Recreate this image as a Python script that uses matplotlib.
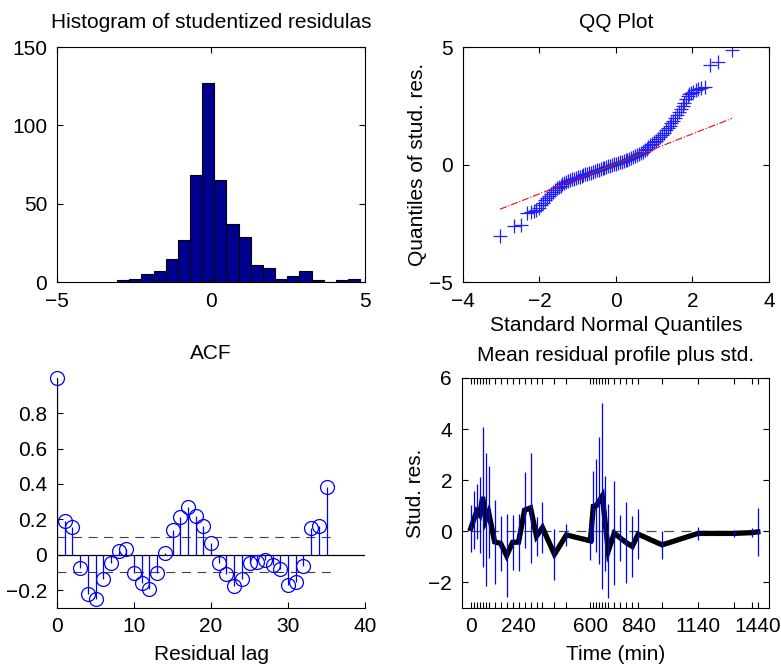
import numpy as np
import matplotlib
matplotlib.use("Agg")
import matplotlib.pyplot as plt

plt.rcParams["font.family"] = ["Liberation Sans", "DejaVu Sans"]
plt.rcParams["font.size"] = 15
plt.rcParams["xtick.direction"] = "in"
plt.rcParams["ytick.direction"] = "in"
plt.rcParams["xtick.major.size"] = 4
plt.rcParams["ytick.major.size"] = 4
plt.rcParams["xtick.major.pad"] = 7
plt.rcParams["ytick.major.pad"] = 7
plt.rcParams["axes.linewidth"] = 0.8

# Histogram of studentized residuals (20 bins)
hist_counts = [1, 2, 5, 7, 15, 27, 68, 127, 65, 37, 29, 11, 9, 2, 4, 7, 1, 0, 1, 2]
hist_range = (-3.05, 4.84)

# QQ plot: theoretical quantiles vs sample quantiles
qq_x = [-3.03, -2.66, -2.47, -2.33, -2.23, -2.15, -2.08, -2.02, -1.96,
        -1.90, -1.85, -1.80, -1.75, -1.70, -1.65, -1.60, -1.55, -1.50, -1.45,
        -1.40, -1.35, -1.30, -1.25, -1.20, -1.15, -1.10, -1.05, -1.00, -0.95,
        -0.90, -0.85, -0.80, -0.75, -0.70, -0.65, -0.60, -0.55, -0.50, -0.45,
        -0.40, -0.35, -0.30, -0.25, -0.20, -0.15, -0.10, -0.05, 0.00, 0.05,
        0.10, 0.15, 0.20, 0.25, 0.30, 0.35, 0.40, 0.45, 0.50, 0.55,
        0.60, 0.65, 0.70, 0.75, 0.80, 0.85, 0.90, 0.95, 1.00, 1.05,
        1.10, 1.15, 1.20, 1.25, 1.30, 1.35, 1.40, 1.45, 1.50, 1.55,
        1.60, 1.65, 1.70, 1.75, 1.79, 1.83, 1.87, 1.91, 1.96, 2.02,
        2.08, 2.15, 2.23, 2.33, 2.47, 2.66, 3.03]
qq_y = [-3.05, -2.60, -2.58, -2.05, -2.02, -1.98, -1.92, -1.85, -1.72,
        -1.62, -1.52, -1.42, -1.33, -1.24, -1.16, -1.09, -1.02, -0.96, -0.90,
        -0.85, -0.80, -0.75, -0.71, -0.67, -0.63, -0.60, -0.57, -0.54, -0.51,
        -0.48, -0.45, -0.42, -0.40, -0.37, -0.34, -0.31, -0.28, -0.25, -0.22,
        -0.19, -0.16, -0.13, -0.10, -0.07, -0.05, -0.02, 0.01, 0.03, 0.06,
        0.09, 0.12, 0.15, 0.18, 0.21, 0.25, 0.29, 0.33, 0.37, 0.41,
        0.45, 0.50, 0.55, 0.61, 0.67, 0.74, 0.81, 0.88, 0.95, 1.02,
        1.10, 1.18, 1.27, 1.36, 1.45, 1.55, 1.65, 1.76, 1.87, 1.98,
        2.10, 2.22, 2.36, 2.50, 2.62, 2.80, 2.92, 3.00, 3.05, 3.10,
        3.15, 3.20, 3.24, 3.30, 4.22, 4.38, 4.88]
qq_q1 = -0.40   # sample first quartile
qq_q3 = 0.46    # sample third quartile

# Autocorrelation of residuals
acf_vals = [1.0, 0.188, 0.156, -0.075, -0.225, -0.252, -0.139, -0.045, 0.023, 0.034,
            -0.105, -0.161, -0.197, -0.101, 0.008, 0.141, 0.216, 0.272, 0.218, 0.160,
            0.064, -0.049, -0.111, -0.178, -0.135, -0.049, -0.041, -0.028, -0.056, -0.083,
            -0.169, -0.152, -0.062, 0.150, 0.165, 0.381]
acf_conf = 0.098

# Mean residual profile
prof_t = [0, 15, 30, 45, 60, 75, 90, 120, 150, 180, 210, 240, 270, 300, 330, 360, 420, 480,
          600, 615, 630, 645, 660, 675, 690, 720, 750, 780, 810, 840, 960, 1140, 1320, 1410, 1440]
prof_mean = [0.10, 0.44, 0.77, 0.63, 1.34, 0.44, 0.74, -0.42, -0.48, -0.96, -0.44, -0.43,
             0.82, 0.91, -0.20, 0.14, -0.91, -0.15, -0.38, 0.97, 1.00, 1.20, 1.38, 0.30,
             -0.78, -0.08, -0.27, -0.45, -0.60, -0.12, -0.54, -0.09, -0.09, -0.06, -0.03]
prof_sd = [0.93, 1.14, 1.09, 1.50, 2.73, 2.61, 1.80, 1.65, 1.08, 1.64, 1.07, 1.12,
           1.50, 2.16, 0.77, 1.00, 1.00, 0.42, 0.74, 1.40, 1.82, 2.50, 3.64, 1.87,
           1.84, 2.03, 0.92, 1.60, 1.20, 0.98, 0.54, 0.27, 0.15, 0.18, 0.93]
prof_labels = [0, 240, 600, 840, 1140, 1440]

fig = plt.figure(figsize=(7.81, 6.65), dpi=100)
ax1 = fig.add_axes([0.0730, 0.5759, 0.3944, 0.3534])
ax2 = fig.add_axes([0.5928, 0.5759, 0.3918, 0.3534])
ax3 = fig.add_axes([0.0730, 0.0862, 0.3944, 0.3454])
ax4 = fig.add_axes([0.5912, 0.0862, 0.3937, 0.3454])

for ax in (ax1, ax2, ax4):
    ax.tick_params(top=True, right=True)

# Histogram
edges = np.linspace(hist_range[0], hist_range[1], len(hist_counts) + 1)
ax1.bar(edges[:-1], hist_counts, width=np.diff(edges), align="edge",
        color="#000090", edgecolor="black", linewidth=0.8)
ax1.set_xlim(-5, 5)
ax1.set_ylim(0, 150)
ax1.set_xticks([-5, 0, 5])
ax1.set_xticklabels(["\u22125", "0", "5"])
ax1.set_yticks([0, 50, 100, 150])
ax1.set_title("Histogram of studentized residulas", fontsize=15, pad=14)

# QQ plot
z = 0.6745
slope = (qq_q3 - qq_q1) / (2 * z)
mid = (qq_q3 + qq_q1) / 2
ax2.plot(qq_x, qq_y, "+", color="#2020ff", markersize=10, markeredgewidth=0.9)
ax2.plot([-z, z], [qq_q1, qq_q3], "-", color=(0, 0.5, 0), lw=0.8)
xe = np.array([min(qq_x), max(qq_x)])
ax2.plot(xe, mid + slope * xe, "-.", color="red", lw=0.8)
ax2.set_xlim(-4, 4)
ax2.set_ylim(-5, 5)
ax2.set_xticks([-4, -2, 0, 2, 4])
ax2.set_xticklabels(["\u22124", "\u22122", "0", "2", "4"])
ax2.set_yticks([-5, 0, 5])
ax2.set_yticklabels(["\u22125", "0", "5"])
ax2.set_xlabel("Standard Normal Quantiles", labelpad=4)
ax2.set_ylabel("Quantiles of stud. res.", labelpad=2)
ax2.set_title("QQ Plot", fontsize=15, pad=14)

# ACF
lags = np.arange(len(acf_vals))
ax3.axhline(0, color="black", lw=0.9)
ax3.hlines([acf_conf, -acf_conf], 0, len(acf_vals), colors="0.25",
           linestyles=(0, (8, 6)), lw=0.8)
ml, sl, bl = ax3.stem(lags, acf_vals, basefmt=" ")
sl.set_color("blue")
sl.set_linewidth(0.9)
ml.set_markerfacecolor("none")
ml.set_markeredgecolor("blue")
ml.set_markersize(10)
ml.set_markeredgewidth(0.9)
ml.set_clip_on(False)
ax3.set_xlim(0, 40)
ax3.set_ylim(-0.3, 1.0)
ax3.set_xticks([0, 10, 20, 30, 40])
ax3.set_yticks([-0.2, 0, 0.2, 0.4, 0.6, 0.8])
ax3.set_yticklabels(["\u22120.2", "0", "0.2", "0.4", "0.6", "0.8"])
ax3.spines["top"].set_visible(False)
ax3.spines["right"].set_visible(False)
ax3.set_xlabel("Residual lag", labelpad=6)
ax3.set_title("ACF", fontsize=15, pad=14)

# Mean residual profile
t = np.array(prof_t)
m = np.array(prof_mean)
s = np.array(prof_sd)
ax4.hlines(0, t[0], t[-1], colors="0.3", linestyles=(0, (8, 6)), lw=0.9)
ax4.plot(t, m, color="black", lw=3.8, solid_joinstyle="miter")
ax4.vlines(t, m - s, m + s, colors="blue", lw=0.9)
ax4.set_xlim(-45, 1497)
ax4.set_ylim(-3, 6)
ax4.set_xticks(prof_t)
ax4.set_xticklabels([str(v) if v in prof_labels else "" for v in prof_t])
ax4.set_yticks([-2, 0, 2, 4, 6])
ax4.set_yticklabels(["\u22122", "0", "2", "4", "6"])
ax4.set_xlabel("Time (min)", labelpad=6)
ax4.set_ylabel("Stud. res.", labelpad=2)
ax4.set_title("Mean residual profile plus std.", fontsize=15, pad=12)

fig.savefig("out.png", dpi=100)
